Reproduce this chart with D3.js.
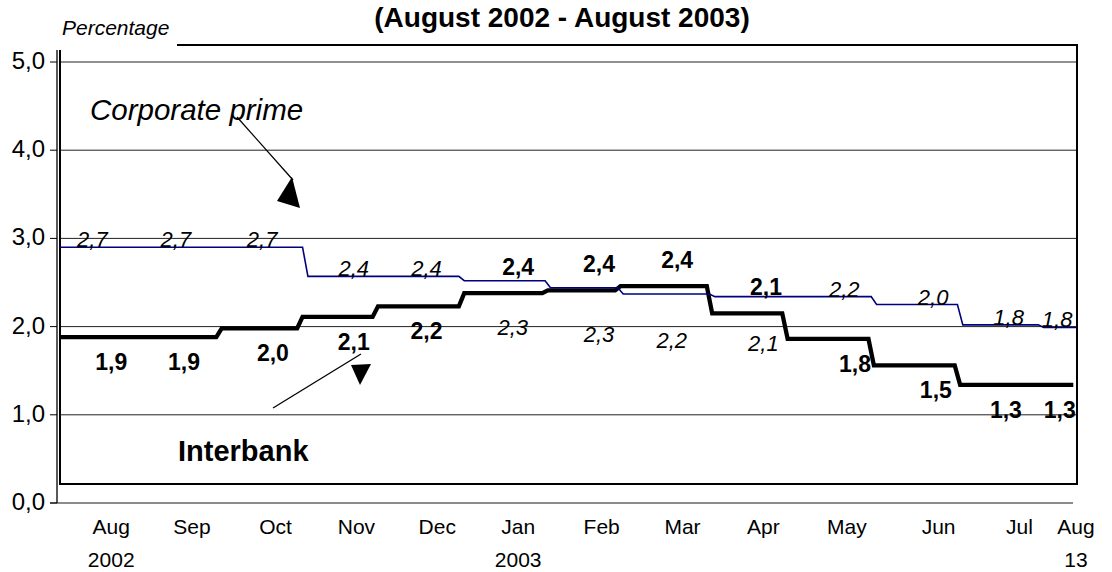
<!DOCTYPE html>
<html>
<head>
<meta charset="utf-8">
<script src="https://cdnjs.cloudflare.com/ajax/libs/d3/7.8.5/d3.min.js"></script>
<style>
  body { margin: 0; background: #fff; }
  text { font-family: "Liberation Sans", Arial, sans-serif; fill: #000; }
</style>
</head>
<body>
<div class="chart"></div>
<script>
var parseDate = d3.timeParse('%Y-%m-%d');

// daily series: date each new level starts, and the level (%)
var interbankStart = ['2002-08-01', '2002-09-30', '2002-10-30', '2002-11-27', '2002-12-29', '2003-01-29',
  '2003-02-25', '2003-03-31', '2003-04-28', '2003-05-30', '2003-07-01'];
var interbankRate = [1.88, 1.98, 2.11, 2.23, 2.38, 2.41, 2.46, 2.15, 1.86, 1.56, 1.34];
var interbankEnd = '2003-08-12';

var primeStart = ['2002-08-01', '2002-11-01', '2002-12-29', '2003-01-30', '2003-02-26', '2003-04-01',
  '2003-05-31', '2003-07-02', '2003-08-01'];
var primeRate = [2.90, 2.57, 2.52, 2.44, 2.37, 2.34, 2.25, 2.02, 1.99];
var primeEnd = '2003-08-13';

// monthly figures written on the chart
var primeMonthly = [2.7, 2.7, 2.7, 2.4, 2.4, 2.3, 2.3, 2.2, 2.1, 2.2, 2.0, 1.8, 1.8];
var primeLabelDates = ['2002-08-13', '2002-09-13', '2002-10-15', '2002-11-18', '2002-12-15', '2003-01-16',
  '2003-02-17', '2003-03-16', '2003-04-19', '2003-05-19', '2003-06-21', '2003-07-19', '2003-08-06'];
var interbankMonthly = [1.9, 1.9, 2.0, 2.1, 2.2, 2.4, 2.4, 2.4, 2.1, 1.8, 1.5, 1.3, 1.3];
var interbankLabelDates = ['2002-08-20', '2002-09-16', '2002-10-19', '2002-11-18', '2002-12-15', '2003-01-18',
  '2003-02-17', '2003-03-18', '2003-04-20', '2003-05-23', '2003-06-22', '2003-07-18', '2003-08-07'];

// x axis text
var monthNames = ['Aug', 'Sep', 'Oct', 'Nov', 'Dec', 'Jan', 'Feb', 'Mar', 'Apr', 'May', 'Jun', 'Jul', 'Aug'];
var monthDates = ['2002-08-20', '2002-09-19', '2002-10-20', '2002-11-19', '2002-12-19', '2003-01-18',
  '2003-02-18', '2003-03-20', '2003-04-19', '2003-05-20', '2003-06-23', '2003-07-23', '2003-08-13'];
var yearNames = ['2002', '2003', '13'];
var yearDates = ['2002-08-20', '2003-01-18', '2003-08-13'];

var yTicks = [0, 1, 2, 3, 4, 5];

var width = 1112,
  height = 572,
  plot = { left: 60, right: 1076, top: 45, bottom: 484 };

var locale = d3.formatLocale({ decimal: ',', thousands: '.', grouping: [3], currency: ['', ''] });
var fmt = locale.format('.1f');

var x = d3.scaleTime()
  .domain([parseDate('2002-08-01'), parseDate('2003-08-13')])
  .range([plot.left, plot.right]);

var y = d3.scaleLinear()
  .domain([0, 5])
  .range([503, 62]);

function stepPoints(starts, rates, end) {
  var pts = [];
  starts.forEach(function (s, i) {
    var d1 = i < starts.length - 1 ? d3.timeDay.offset(parseDate(starts[i + 1]), -2) : parseDate(end);
    pts.push({ date: parseDate(s), value: rates[i] });
    pts.push({ date: d1, value: rates[i] });
  });
  return pts;
}

function rateAt(starts, rates, date) {
  var i = d3.bisectRight(starts.map(parseDate), date) - 1;
  return rates[Math.max(0, i)];
}

var svg = d3.select('.chart')
  .append('svg')
  .attr('width', width)
  .attr('height', height);

svg.append('rect')
  .attr('width', width)
  .attr('height', height)
  .attr('fill', '#fff');

// title fragment and unit
svg.append('text')
  .attr('x', 562)
  .attr('y', 27)
  .attr('text-anchor', 'middle')
  .style('font-size', '28px')
  .style('font-weight', 'bold')
  .text('(August 2002 - August 2003)');

svg.append('text')
  .attr('x', 62)
  .attr('y', 35)
  .style('font-size', '21px')
  .style('font-style', 'italic')
  .text('Percentage');

// gridlines
svg.append('g')
  .selectAll('line')
  .data(yTicks.filter(function (t) { return t > 0; }))
  .enter()
  .append('line')
  .attr('x1', plot.left)
  .attr('x2', plot.right)
  .attr('y1', function (d) { return y(d); })
  .attr('y2', function (d) { return y(d); })
  .attr('stroke', '#222')
  .attr('stroke-width', 1);

svg.append('line')
  .attr('x1', 50)
  .attr('x2', 1073)
  .attr('y1', y(0))
  .attr('y2', y(0))
  .attr('stroke', '#666')
  .attr('stroke-width', 1.5);

// y axis
svg.append('line')
  .attr('x1', 57).attr('x2', 57)
  .attr('y1', 50).attr('y2', y(0))
  .attr('stroke', '#000')
  .attr('stroke-width', 1.3);

svg.append('g')
  .selectAll('line')
  .data(yTicks)
  .enter()
  .append('line')
  .attr('x1', 50).attr('x2', 57)
  .attr('y1', function (d) { return y(d); })
  .attr('y2', function (d) { return y(d); })
  .attr('stroke', '#000');

svg.append('g')
  .selectAll('text')
  .data(yTicks)
  .enter()
  .append('text')
  .attr('x', 45)
  .attr('y', function (d) { return y(d) + 7; })
  .attr('text-anchor', 'end')
  .style('font-size', '24px')
  .text(function (d) { return fmt(d); });

// frame
svg.append('path')
  .attr('d', 'M177,' + plot.top + 'H1077V' + plot.bottom + 'H' + plot.left + 'V50')
  .attr('fill', 'none')
  .attr('stroke', '#000')
  .attr('stroke-width', 2);

// lines
var line = d3.line()
  .x(function (d) { return x(d.date); })
  .y(function (d) { return y(d.value); });

svg.append('path')
  .datum(stepPoints(interbankStart, interbankRate, interbankEnd))
  .attr('d', line)
  .attr('fill', 'none')
  .attr('stroke', '#000')
  .attr('stroke-width', 4.3);

svg.append('path')
  .datum(stepPoints(primeStart, primeRate, primeEnd))
  .attr('d', line)
  .attr('fill', 'none')
  .attr('stroke', '#000080')
  .attr('stroke-width', 1.6);

// data labels: the higher monthly figure sits above its line
svg.append('g')
  .selectAll('text')
  .data(primeMonthly)
  .enter()
  .append('text')
  .attr('x', function (d, i) { return x(parseDate(primeLabelDates[i])); })
  .attr('y', function (d, i) {
    var dt = parseDate(primeLabelDates[i]);
    var above = d > interbankMonthly[i];
    return y(rateAt(primeStart, primeRate, dt)) + (above ? 0 : 54);
  })
  .attr('text-anchor', 'middle')
  .style('font-size', '22px')
  .style('font-style', 'italic')
  .text(function (d) { return fmt(d); });

svg.append('g')
  .selectAll('text')
  .data(interbankMonthly)
  .enter()
  .append('text')
  .attr('x', function (d, i) { return x(parseDate(interbankLabelDates[i])); })
  .attr('y', function (d, i) {
    var dt = parseDate(interbankLabelDates[i]);
    var above = d >= primeMonthly[i];
    return y(rateAt(interbankStart, interbankRate, dt)) + (above ? -18 : 33);
  })
  .attr('text-anchor', 'middle')
  .style('font-size', '23px')
  .style('font-weight', 'bold')
  .text(function (d) { return fmt(d); });

// series names with their pointers
svg.append('text')
  .attr('x', 90)
  .attr('y', 120)
  .style('font-size', '29.5px')
  .style('font-style', 'italic')
  .text('Corporate prime');

svg.append('line')
  .attr('x1', 237).attr('y1', 117)
  .attr('x2', 293).attr('y2', 180)
  .attr('stroke', '#000')
  .attr('stroke-width', 1.3);

svg.append('path')
  .attr('d', 'M292,177L277,201L300,208Z')
  .attr('fill', '#000');

svg.append('text')
  .attr('x', 178)
  .attr('y', 461)
  .style('font-size', '29px')
  .style('font-weight', 'bold')
  .text('Interbank');

svg.append('line')
  .attr('x1', 273).attr('y1', 408)
  .attr('x2', 361).attr('y2', 354)
  .attr('stroke', '#000')
  .attr('stroke-width', 1.3);

svg.append('path')
  .attr('d', 'M351,365L371,364L360,385Z')
  .attr('fill', '#000');

// x axis labels
svg.append('g')
  .selectAll('text')
  .data(monthNames)
  .enter()
  .append('text')
  .attr('x', function (d, i) { return x(parseDate(monthDates[i])); })
  .attr('y', 534)
  .attr('text-anchor', 'middle')
  .style('font-size', '21px')
  .text(function (d) { return d; });

svg.append('g')
  .selectAll('text')
  .data(yearNames)
  .enter()
  .append('text')
  .attr('x', function (d, i) { return x(parseDate(yearDates[i])); })
  .attr('y', 567)
  .attr('text-anchor', 'middle')
  .style('font-size', '21px')
  .text(function (d) { return d; });
</script>
</body>
</html>
